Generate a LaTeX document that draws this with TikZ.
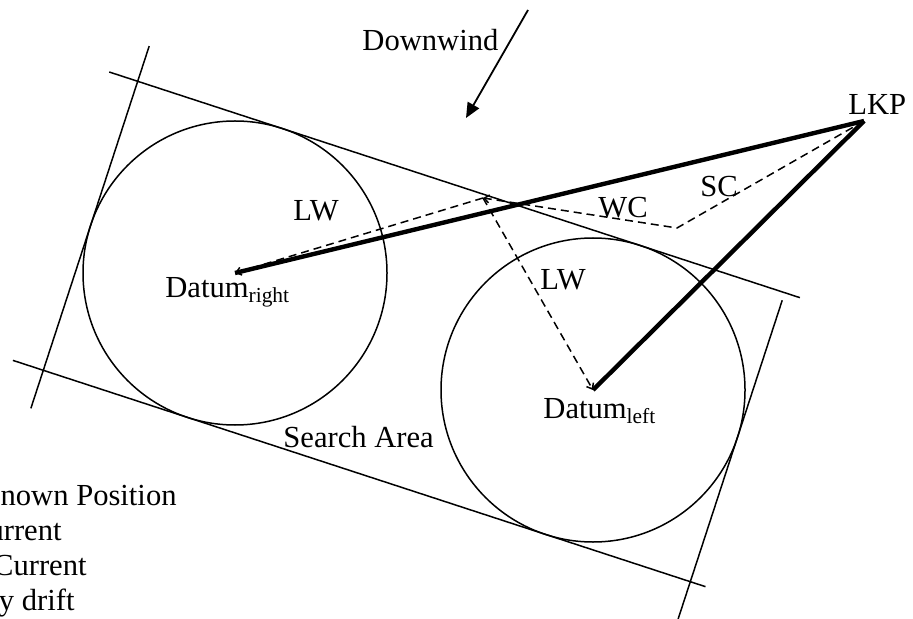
\documentclass[tikz,border=0pt]{standalone}
\usepackage{fontspec}
\setmainfont{Liberation Serif}
\usepackage{tikz}
\usetikzlibrary{arrows.meta, calc}

\tikzset{
  % Search area boundary and datum circles
  boundary/.style={line width=0.75pt, black},
  % Drift legs
  driftleg/.style={
    dash pattern=on 4pt off 2.5pt, line width=0.75pt,
    -{Straight Barb[length=2.5pt,width=4pt]},
  },
  % Total drift tracks
  track/.style={line width=2.2pt},
  % Wind arrow
  windarrow/.style={line width=0.9pt, -{Triangle[length=7.5pt,width=6.5pt]}},
  % Labels
  lbl/.style={font=\fontsize{15.3}{17.6}\selectfont, inner sep=0pt, anchor=base west},
}

\begin{document}
\begin{tikzpicture}[x=0.5pt, y=-0.5pt]
  \useasboundingbox (0,0) rectangle (913,619);

  % Points
  \coordinate (datR) at (235,273);
  \coordinate (datL) at (593,390);
  \coordinate (lkp)  at (864,121);
  \coordinate (bend) at (677,228);
  \coordinate (wcEnd) at (483,198);

  % Corners of the search area
  \coordinate (tl) at (137.7,81.3);
  \coordinate (bl) at (43.3,370.3);
  \coordinate (tr) at (784.7,292.7);
  \coordinate (br) at (690.3,581.7);

  % Circles
  \draw[boundary] (datR) circle[radius=76pt];
  \draw[boundary] (datL) circle[radius=76pt];

  % Search area
  \draw[boundary] ($(tl)!-15pt!(tr)$) -- ($(tr)!-8pt!(tl)$);
  \draw[boundary] ($(bl)!-16pt!(br)$) -- ($(br)!-8pt!(bl)$);
  \draw[boundary] ($(tl)!-18.5pt!(bl)$) -- ($(bl)!-20pt!(tl)$);
  \draw[boundary] ($(tr)!4pt!(br)$) -- ($(br)!-22pt!(tr)$);

  % Drift legs
  \draw[driftleg] (lkp) -- (bend) -- (wcEnd);
  \draw[driftleg] (wcEnd) -- (datR);
  \draw[driftleg] (wcEnd) -- (datL);

  % Tracks
  \draw[track] (lkp) -- (datR);
  \draw[track] (lkp) -- (datL);

  % Wind
  \coordinate (windTail) at (528,10);
  \coordinate (windHead) at (466,118);
  \draw[windarrow] (windTail) -- (windHead);

  % Labels
  \node[lbl] (downwind) at (362,51) {Downwind};
  \node[lbl] (lkpLbl) at (848,115) {LKP};
  \node[lbl] (scLbl) at (700,197) {SC};
  \node[lbl] (wcLbl) at (598,218) {WC};
  \node[lbl] (lwR) at (293,221) {LW};
  \node[lbl] (lwL) at (540,290) {LW};
  \node[lbl] (datRLbl) at (165,298) {Datum\textsubscript{right}};
  \node[lbl] (datLLbl) at (543,418) {Datum\textsubscript{left}};
  \node[lbl] (area) at (283,447) {Search Area};

  % Legend (cut at the left edge)
  \node[lbl, anchor=base east] (legLkp) at (177,505) {nown Position};
  \node[lbl, anchor=base east] (legWc) at (62,540) {urrent};
  \node[lbl, anchor=base east] (legSc) at (87,575) {Current};
  \node[lbl, anchor=base east] (legLw) at (75,610) {y drift};
\end{tikzpicture}
\end{document}
